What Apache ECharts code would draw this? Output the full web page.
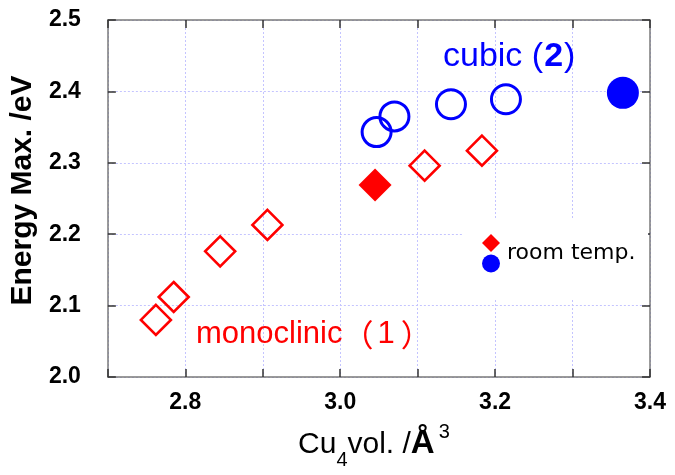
<!DOCTYPE html>
<html>
<head>
<meta charset="utf-8">
<script src="https://cdn.jsdelivr.net/npm/echarts@6/dist/echarts.min.js"></script>
<style>html,body{margin:0;padding:0;background:#fff;}#c{width:675px;height:475px;}</style>
</head>
<body>
<div id="c"></div>
<script>
// ---- data ----
const monoOpen = [[2.762, 2.080], [2.785, 2.112], [2.845, 2.176], [2.906, 2.213], [3.109, 2.296], [3.183, 2.317]];
const monoRT = [[3.045, 2.269]];
const cubicOpen = [[3.047, 2.343], [3.070, 2.365], [3.143, 2.382], [3.214, 2.389]];
const cubicRT = [[3.365, 2.398]];
const xTickLabels = ['2.8', '3.0', '3.2', '3.4'];
const yTickLabels = ['2.0', '2.1', '2.2', '2.3', '2.4', '2.5'];
const xRange = [2.7, 3.4];
const yRange = [2.0, 2.5];

const RED = '#ff0000', BLUE = '#0000ff';
const tickFont = '"Liberation Sans", Arial, sans-serif';

const chart = echarts.init(document.getElementById('c'), null, {renderer: 'canvas'});
const gridLine = {show: true, lineStyle: {color: '#c4c4ff', type: [2, 2], width: 1}};
const frame = {show: true, onZero: false, lineStyle: {color: '#7a7a7a', width: 1.5}};
const ticks = {show: true, inside: true, length: 8, lineStyle: {color: '#333', width: 1.5}};

chart.setOption({
  animation: false,
  backgroundColor: '#fff',
  grid: {left: 102, right: 25, top: 20, bottom: 90, containLabel: false},
  xAxis: [{
    type: 'value', min: xRange[0], max: xRange[1], interval: 0.1,
    axisLine: frame, axisTick: ticks, splitLine: gridLine,
    axisLabel: {
      margin: 14, color: '#000', fontFamily: tickFont, fontWeight: 'bold', fontSize: 23,
      formatter: v => { const s = v.toFixed(1); return xTickLabels.includes(s) ? s : ''; }
    },
    name: '{a|Cu}{s|4}{a|vol. /}{b|Å}{p|3}', nameLocation: 'middle', nameGap: 45,
    nameTextStyle: {
      rich: {
        a: {fontFamily: tickFont, fontSize: 30, color: '#000', fontWeight: 'normal', verticalAlign: 'bottom'},
        s: {fontFamily: tickFont, fontSize: 20, color: '#000', padding: [0, 0, -10, 0], verticalAlign: 'bottom'},
        b: {fontFamily: tickFont, fontSize: 33, color: '#000', fontWeight: 'bold', verticalAlign: 'bottom'},
        p: {fontFamily: tickFont, fontSize: 20, color: '#000', padding: [0, 10, 18, 4], verticalAlign: 'bottom'}
      }
    }
  }, {
    type: 'value', position: 'top', min: xRange[0], max: xRange[1], interval: 0.1,
    axisLine: frame, axisTick: ticks, axisLabel: {show: false}, splitLine: {show: false}
  }],
  yAxis: [{
    type: 'value', min: yRange[0], max: yRange[1], interval: 0.1,
    axisLine: frame, axisTick: ticks, splitLine: gridLine,
    axisLabel: {
      margin: 27, color: '#000', fontFamily: tickFont, fontWeight: 'bold', fontSize: 23,
      formatter: v => { const s = v.toFixed(1); return yTickLabels.includes(s) ? s : ''; }
    },
    name: 'Energy Max. /eV', nameLocation: 'middle', nameRotate: 90, nameGap: 64,
    nameTextStyle: {fontFamily: tickFont, fontWeight: 'bold', fontSize: 30, color: '#000', padding: [0, 0, 0, 16]}
  }, {
    type: 'value', position: 'right', min: yRange[0], max: yRange[1], interval: 0.1,
    axisLine: frame, axisTick: ticks, axisLabel: {show: false}, splitLine: {show: false}
  }],
  graphic: [
    {type: 'rect', z: 1, shape: {x: 462, y: 218, width: 186, height: 82}, style: {fill: '#fff'}},
    {type: 'polygon', z: 5, shape: {points: [[491, 234], [500, 243], [491, 252], [482, 243]]}, style: {fill: RED}},
    {type: 'circle', z: 5, shape: {cx: 491, cy: 263.5, r: 9}, style: {fill: BLUE}},
    {type: 'text', z: 5, x: 507, y: 253, style: {text: 'room temp.', fill: '#000', font: '22px "DejaVu Sans", sans-serif', verticalAlign: 'middle', align: 'left'}},
    {type: 'text', z: 5, x: 196, y: 334, style: {
      text: '{a|monoclinic}{p|（}{o|1}{p|）}', verticalAlign: 'middle', align: 'left',
      rich: {
        a: {fontFamily: '"Liberation Sans", Arial, sans-serif', fontSize: 31, fill: RED},
        o: {fontFamily: '"Liberation Sans", Arial, sans-serif', fontSize: 31, fill: RED, padding: [0, 6, 0, 4]},
        p: {fontFamily: '"Noto Sans CJK JP", sans-serif', fontSize: 31, fill: RED}
      }
    }},
    {type: 'text', z: 5, x: 443, y: 57, style: {
      text: '{a|cubic (}{b|2}{a|)}', verticalAlign: 'middle', align: 'left',
      rich: {
        a: {fontFamily: '"Liberation Sans", Arial, sans-serif', fontSize: 34, fill: BLUE},
        b: {fontFamily: '"Liberation Sans", Arial, sans-serif', fontSize: 34, fontWeight: 'bold', fill: BLUE, padding: [0, 1, 0, 1]}
      }
    }}
  ],
  series: [
    {name: 'monoclinic', type: 'scatter', data: monoOpen, symbol: 'diamond', symbolSize: 30, z: 3,
     itemStyle: {color: 'rgba(255,255,255,0)', borderColor: RED, borderWidth: 2.6, opacity: 1}},
    {name: 'monoclinic RT', type: 'scatter', data: monoRT, symbol: 'diamond', symbolSize: 33, z: 3,
     itemStyle: {color: RED, opacity: 1}},
    {name: 'cubic', type: 'scatter', data: cubicOpen, symbol: 'circle', symbolSize: 29, z: 3,
     itemStyle: {color: 'rgba(255,255,255,0)', borderColor: BLUE, borderWidth: 3, opacity: 1}},
    {name: 'cubic RT', type: 'scatter', data: cubicRT, symbol: 'circle', symbolSize: 32, z: 3,
     itemStyle: {color: BLUE, opacity: 1}}
  ]
});
</script>
</body>
</html>
